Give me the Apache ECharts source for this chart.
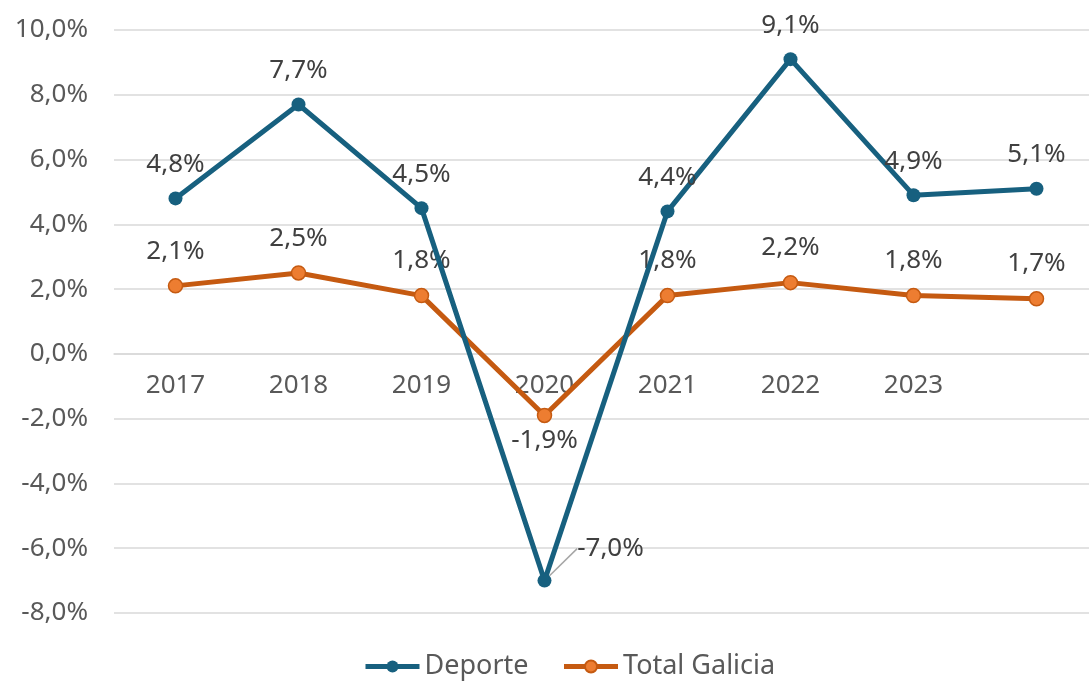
<!DOCTYPE html>
<html>
<head>
<meta charset="utf-8">
<script src="https://cdn.jsdelivr.net/npm/echarts@6/dist/echarts.min.js"></script>
<style>
  html, body { margin: 0; padding: 0; background: #fff; }
  #chart { width: 1089px; height: 682px; }
</style>
</head>
<body>
<div id="chart"></div>
<script>
var years = ['2017', '2018', '2019', '2020', '2021', '2022', '2023', ''];
var deporte = [4.8, 7.7, 4.5, -7.0, 4.4, 9.1, 4.9, 5.1];
var totalGalicia = [2.1, 2.5, 1.8, -1.9, 1.8, 2.2, 1.8, 1.7];

var fontFam = '"Noto Sans", "Open Sans", sans-serif';
function pct(v) { return v.toFixed(1).replace('.', ',') + '%'; }

// only the -7,0% label gets a leader line
var deporteData = deporte.map(function (v, i) {
  return i === 3 ? { value: v, labelLine: { show: true } } : v;
});

var chart = echarts.init(document.getElementById('chart'));
chart.setOption({
  animation: false,
  backgroundColor: '#fff',
  grid: { left: 114, top: 30, width: 984, height: 583, outerBoundsMode: 'none' },
  legend: {
    bottom: -3,
    left: 358,
    itemWidth: 54,
    itemHeight: 15,
    itemGap: 33,
    lineStyle: { width: 5 },
    textStyle: { color: '#595959', fontSize: 27, fontFamily: fontFam },
    data: ['Deporte', 'Total Galicia']
  },
  xAxis: {
    type: 'category',
    data: years,
    boundaryGap: true,
    position: 'bottom',
    offset: -259,
    axisTick: { show: false },
    axisLine: { onZero: false, lineStyle: { color: '#d9d9d9', width: 1.5 } },
    axisLabel: { color: '#595959', fontSize: 26, fontFamily: fontFam, margin: 19 }
  },
  yAxis: {
    type: 'value',
    min: -8,
    max: 10,
    interval: 2,
    axisLine: { show: false },
    axisTick: { show: false },
    splitLine: { lineStyle: { color: '#d9d9d9', width: 1.5 } },
    axisLabel: {
      color: '#595959', fontSize: 26, fontFamily: fontFam, margin: 26,
      formatter: function (v) { return pct(v); }
    }
  },
  series: [{
    name: 'Deporte',
    type: 'line',
    data: deporteData,
    symbol: 'circle',
    symbolSize: 14,
    lineStyle: { color: '#17607f', width: 5 },
    itemStyle: { color: '#17607f' },
    label: {
      show: true,
      position: 'top',
      distance: 14,
      color: '#404040',
      fontSize: 26,
      fontFamily: fontFam,
      formatter: function (p) { return pct(p.value); }
    },
    labelLine: { show: false, lineStyle: { color: '#a6a6a6', width: 1.5 } },
    labelLayout: function (p) {
      if (p.dataIndex === 3) return { dx: 66, dy: 2 };
      return {};
    },
    z: 3
  }, {
    name: 'Total Galicia',
    type: 'line',
    data: totalGalicia,
    symbol: 'circle',
    symbolSize: 14,
    lineStyle: { color: '#c55a11', width: 5 },
    itemStyle: { color: '#ed7d31', borderColor: '#c55a11', borderWidth: 1.5 },
    label: {
      show: true,
      position: 'top',
      distance: 14,
      color: '#404040',
      fontSize: 26,
      fontFamily: fontFam,
      formatter: function (p) { return pct(p.value); }
    },
    labelLayout: function (p) {
      if (p.dataIndex === 3) return { dy: 60 };
      return {};
    },
    z: 2
  }]
});
</script>
</body>
</html>
